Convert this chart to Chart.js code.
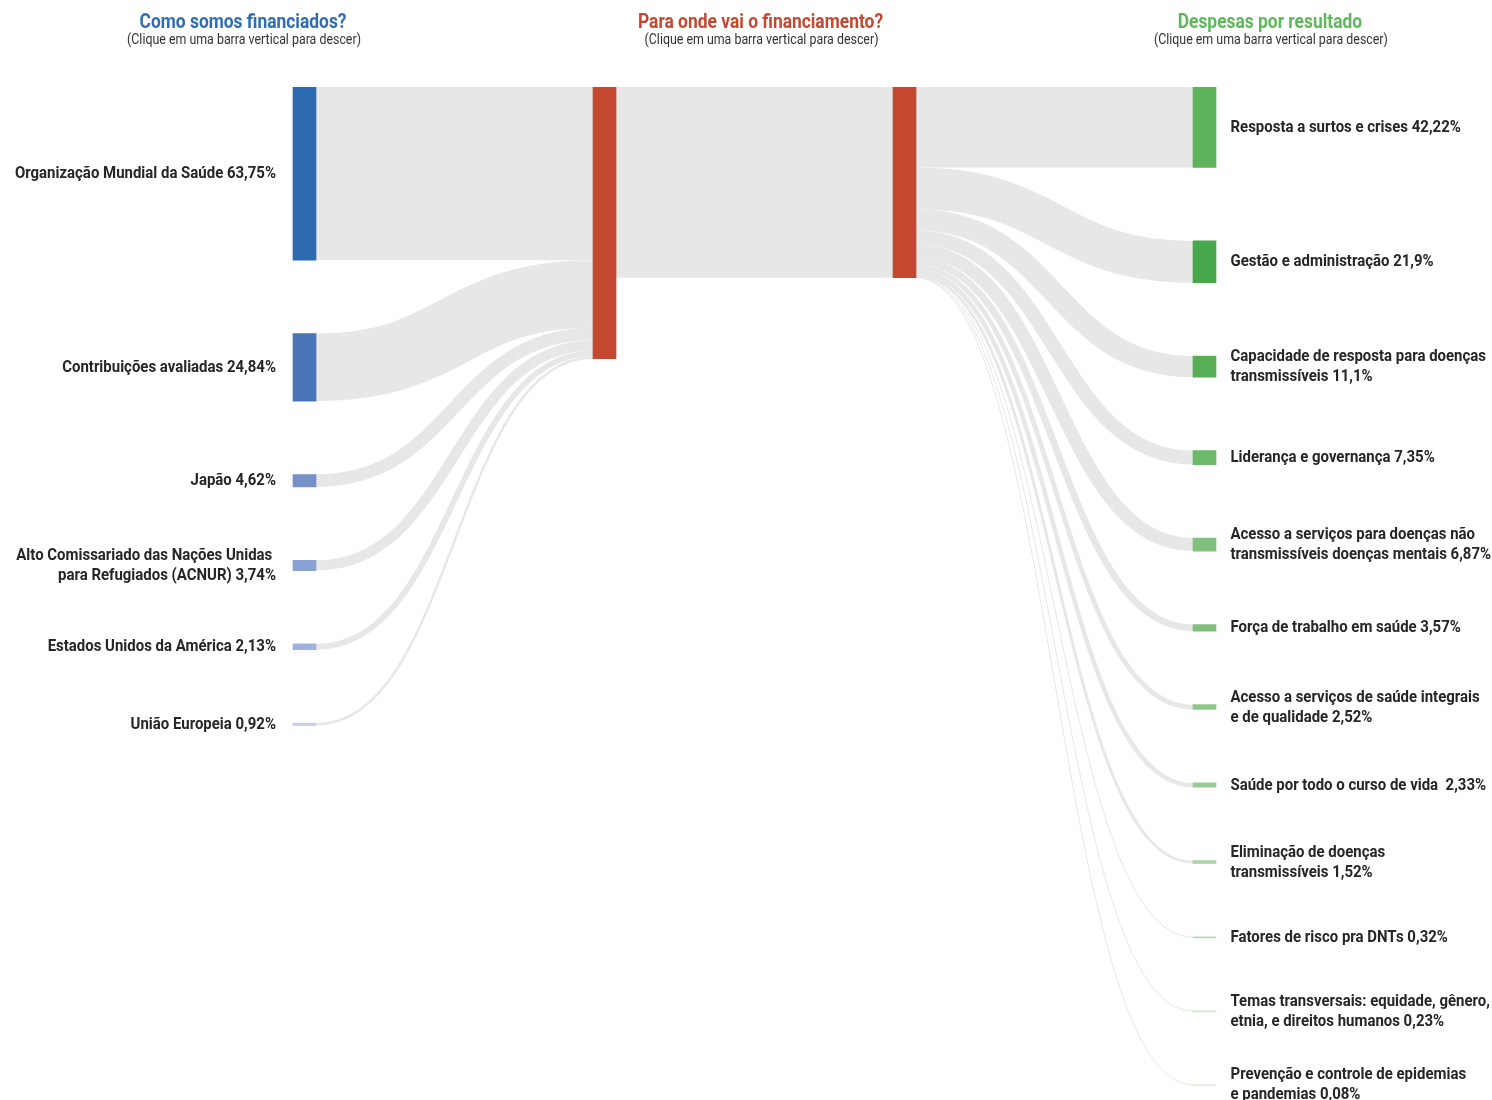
<!DOCTYPE html>
<html lang="pt-BR">
<head>
<meta charset="utf-8">
<title>Financiamento e despesas</title>
<script src="https://cdn.jsdelivr.net/npm/chart.js@4.4.1/dist/chart.umd.min.js"></script>
<style>
  html, body { margin: 0; padding: 0; background: #ffffff; }
  #wrap { position: relative; width: 1492px; height: 1100px; }
</style>
</head>
<body>
<div id="wrap"><canvas id="c"></canvas></div>
<script>
// ---------------- DATA ----------------
const headers = ['Como somos financiados?', 'Para onde vai o financiamento?', 'Despesas por resultado'];
const subHeader = '(Clique em uma barra vertical para descer)';

const sourceNames = [
  ['Organização Mundial da Saúde'],
  ['Contribuições avaliadas'],
  ['Japão'],
  ['Alto Comissariado das Nações Unidas ', 'para Refugiados (ACNUR)'],
  ['Estados Unidos da América'],
  ['União Europeia']
];
const sourceShares = [63.75, 24.84, 4.62, 3.74, 2.13, 0.92];

const resultNames = [
  ['Resposta a surtos e crises'],
  ['Gestão e administração'],
  ['Capacidade de resposta para doenças', 'transmissíveis'],
  ['Liderança e governança'],
  ['Acesso a serviços para doenças não', 'transmissíveis doenças mentais'],
  ['Força de trabalho em saúde'],
  ['Acesso a serviços de saúde integrais', 'e de qualidade'],
  ['Saúde por todo o curso de vida '],
  ['Eliminação de doenças', 'transmissíveis'],
  ['Fatores de risco pra DNTs'],
  ['Temas transversais: equidade, gênero,', 'etnia, e direitos humanos'],
  ['Prevenção e controle de epidemias', 'e pandemias']
];
const resultShares = [42.22, 21.9, 11.1, 7.35, 6.87, 3.57, 2.52, 2.33, 1.52, 0.32, 0.23, 0.08];

// total funding received vs. total spent (same units)
const totalFunding = 100;
const totalSpent = 70.2;

// ---------------- STYLE ----------------
const sourceColors = ['#2e6ab0', '#4a75b9', '#7690c8', '#8aa1d3', '#9fb1dd', '#c6d1ec'];
const midColor = '#c4482f';
const resultColors = ['#5db35a', '#46a84a', '#58ae55', '#6cb969', '#80c07c', '#80c07c',
                      '#8ec88a', '#98cc94', '#a8d3a4', '#b9dcb5', '#d0e7cd', '#dfeedd'];
const headerColors = ['#2f6db5', '#c4482f', '#5db85b'];
const flowColor = '#e6e7e6';
const textColor = '#262626';
const FONT = 'Roboto, "Liberation Sans", sans-serif';
const GAP = 27;           // vertical gap between nodes, in value units
const BAR_W = 23;
const MIN_FLOW = 1;       // minimum drawn flow thickness, px

// ---------------- LAYOUT (value space) ----------------
function stack(values) {
  let y = 0;
  return values.map(v => { const n = [y, y + v]; y += v + GAP; return n; });
}
const leftNodes = stack(sourceShares);
const resultValues = resultShares.map(s => s * totalSpent / 100);
const rightNodes = stack(resultValues);
const midLeft = [0, totalFunding];
const midRight = [0, totalSpent];

const barData = [];
const barColors = [];
leftNodes.forEach((n, i) => { barData.push({x: 0, y: n}); barColors.push(sourceColors[i]); });
barData.push({x: 1, y: midLeft}); barColors.push(midColor);
barData.push({x: 2, y: midRight}); barColors.push(midColor);
rightNodes.forEach((n, i) => { barData.push({x: 3, y: n}); barColors.push(resultColors[i]); });

// links: [fromColumn, [s0,s1], toColumn, [t0,t1]]
const links = [];
{
  let acc = 0;
  leftNodes.forEach((n, i) => {
    links.push([0, n, 1, [acc, acc + sourceShares[i]]]);
    acc += sourceShares[i];
  });
  links.push([1, [0, totalSpent], 2, [0, totalSpent]]);
  acc = 0;
  rightNodes.forEach((n, i) => {
    links.push([2, [acc, acc + resultValues[i]], 3, n]);
    acc += resultValues[i];
  });
}

function fmt(v) { return String(v).replace('.', ',') + '%'; }

function drawText(ctx, text, x, y, align, font, color, sx) {
  ctx.save();
  ctx.font = font;
  ctx.fillStyle = color;
  ctx.textAlign = align;
  ctx.textBaseline = 'alphabetic';
  ctx.translate(x, y);
  ctx.scale(sx, 1);
  ctx.fillText(text, 0, 0);
  ctx.restore();
}

const sankeyPlugin = {
  id: 'sankeyFlows',
  beforeDatasetsDraw(chart) {
    const {ctx, scales: {x, y}} = chart;
    ctx.save();
    ctx.strokeStyle = flowColor;
    ctx.lineCap = 'butt';
    links.forEach(([c0, s, c1, t]) => {
      const xs = x.getPixelForValue(c0) + BAR_W / 2;
      const xt = x.getPixelForValue(c1) - BAR_W / 2;
      const xm = (xs + xt) / 2;
      const s0 = y.getPixelForValue(s[0]), s1 = y.getPixelForValue(s[1]);
      const t0 = y.getPixelForValue(t[0]), t1 = y.getPixelForValue(t[1]);
      const ys = (s0 + s1) / 2, yt = (t0 + t1) / 2;
      ctx.lineWidth = Math.max(MIN_FLOW, s1 - s0);
      ctx.beginPath();
      ctx.moveTo(xs, ys);
      ctx.bezierCurveTo(xm, ys, xm, yt, xt, yt);
      ctx.stroke();
    });
    ctx.restore();
  },
  afterDraw(chart) {
    const {ctx, scales: {x, y}} = chart;
    const labelFont = 'bold 17px ' + FONT;
    const labelSx = 0.88;
    const lh = 20;
    const baseOff = 4.6;
    // left labels
    const lx = x.getPixelForValue(0) - BAR_W / 2 - 17;
    leftNodes.forEach((n, i) => {
      const lines = sourceNames[i].slice();
      lines[lines.length - 1] += ' ' + fmt(sourceShares[i]);
      const c = (y.getPixelForValue(n[0]) + y.getPixelForValue(n[1])) / 2;
      lines.forEach((t, k) => drawText(ctx, t, lx, c + baseOff + (k - (lines.length - 1) / 2) * lh, 'right', labelFont, textColor, labelSx));
    });
    // right labels
    const rx = x.getPixelForValue(3) + BAR_W / 2 + 14.5;
    rightNodes.forEach((n, i) => {
      const lines = resultNames[i].slice();
      lines[lines.length - 1] += ' ' + fmt(resultShares[i]);
      const c = (y.getPixelForValue(n[0]) + y.getPixelForValue(n[1])) / 2;
      lines.forEach((t, k) => drawText(ctx, t, rx, c + baseOff + (k - (lines.length - 1) / 2) * lh, 'left', labelFont, textColor, labelSx));
    });
    // headers
    const hx = [x.getPixelForValue(-0.205), x.getPixelForValue(1.52), x.getPixelForValue(3.218)];
    headers.forEach((h, i) => {
      drawText(ctx, h, hx[i], 27.5, 'center', 'bold 20px ' + FONT, headerColors[i], 0.87);
      drawText(ctx, subHeader, hx[i] + 1, 43.5, 'center', '14px ' + FONT, '#333333', 0.885);
    });
  }
};

new Chart(document.getElementById('c'), {
  type: 'bar',
  data: {
    datasets: [{
      data: barData,
      backgroundColor: barColors,
      borderWidth: 0,
      barThickness: BAR_W,
      minBarLength: 1
    }]
  },
  options: {
    responsive: true,
    maintainAspectRatio: false,
    animation: false,
    layout: { padding: { top: 87, bottom: 13, left: 154.5, right: 137.5 } },
    scales: {
      x: { type: 'linear', min: -0.5, max: 3.5, display: false, offset: false },
      y: { type: 'linear', min: 0, max: 368, reverse: true, display: false }
    },
    plugins: { legend: { display: false }, tooltip: { enabled: false } }
  },
  plugins: [sankeyPlugin]
});
</script>
</body>
</html>
